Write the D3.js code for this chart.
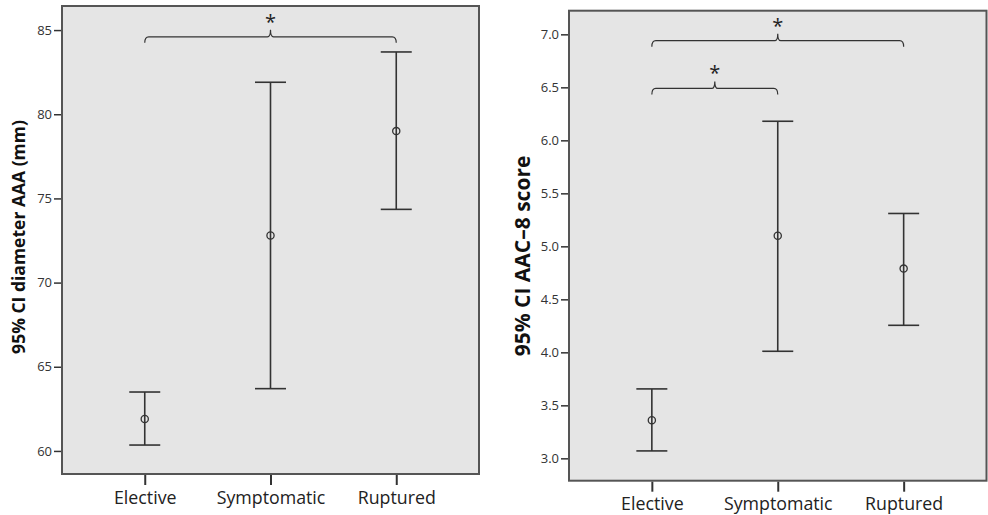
<!DOCTYPE html>
<html>
<head>
<meta charset="utf-8">
<script src="https://cdn.jsdelivr.net/npm/d3@7"></script>
<style>
  body { margin: 0; background: #fff; }
  svg { display: block; }
  text { font-family: "Open Sans", sans-serif; }
</style>
</head>
<body>
<svg id="chart" width="988" height="515"></svg>
<script>
// ---- data ----
const categories = ["Elective", "Symptomatic", "Ruptured"];

// Panel A: 95% CI diameter AAA (mm)
const diamMean  = [61.9, 72.8, 79.0];
const diamLower = [60.35, 63.7, 74.35];
const diamUpper = [63.5, 81.9, 83.7];
const diamTicks = [60, 65, 70, 75, 80, 85];
const diamTickLabels = ["60", "65", "70", "75", "80", "85"];
const diamSig = [{ from: "Elective", to: "Ruptured", level: 84.6, label: "*" }];

// Panel B: 95% CI AAC-8 score
const aacMean  = [3.36, 5.10, 4.79];
const aacLower = [3.07, 4.01, 4.255];
const aacUpper = [3.655, 6.18, 5.31];
const aacTicks = [3.0, 3.5, 4.0, 4.5, 5.0, 5.5, 6.0, 6.5, 7.0];
const aacTickLabels = ["3.0", "3.5", "4.0", "4.5", "5.0", "5.5", "6.0", "6.5", "7.0"];
const aacSig = [
  { from: "Elective", to: "Ruptured", level: 6.94, label: "*" },
  { from: "Elective", to: "Symptomatic", level: 6.49, label: "*" }
];

const svg = d3.select("#chart");

function drawPanel(cfg) {
  const g = svg.append("g");
  const { x0, x1, y0, y1 } = cfg.box;
  const x = d3.scalePoint().domain(categories).range([x0, x1]).padding(0.658);
  const y = d3.scaleLinear().domain(cfg.domain).range([y1, y0]);

  // plot background
  g.append("rect")
    .attr("x", x0).attr("y", y0)
    .attr("width", x1 - x0).attr("height", y1 - y0)
    .attr("fill", "#e5e5e5")
    .attr("stroke", "#555").attr("stroke-width", 2);

  // y axis
  const yAxis = d3.axisLeft(y)
    .tickValues(cfg.ticks)
    .tickFormat((d, i) => cfg.tickLabels[i])
    .tickSize(7).tickPadding(2);
  const ya = g.append("g").attr("transform", `translate(${x0 - 1},0)`).call(yAxis);
  ya.select(".domain").remove();
  ya.selectAll(".tick line").attr("stroke", "#333").attr("stroke-width", 1.5);
  ya.selectAll(".tick text").attr("fill", "#333").style("font-size", "13px");

  // x axis
  const xAxis = d3.axisBottom(x).tickSize(10).tickPadding(6);
  const xa = g.append("g").attr("transform", `translate(0,${y1 + 1})`).call(xAxis);
  xa.select(".domain").remove();
  xa.selectAll(".tick line").attr("stroke", "#333").attr("stroke-width", 2);
  xa.selectAll(".tick text").attr("fill", "#222").style("font-size", "17.8px");

  // y title
  g.append("text")
    .attr("transform", `translate(${cfg.titleX},${cfg.titleY}) rotate(-90)`)
    .attr("text-anchor", "middle")
    .attr("dominant-baseline", "central")
    .style("font-size", cfg.titleSize).style("font-weight", "bold")
    .attr("fill", "#111")
    .text(cfg.title);

  // error bars
  const capW = 15.5;
  const data = categories.map((c, i) => ({
    c, m: cfg.mean[i], lo: cfg.lower[i], hi: cfg.upper[i]
  }));
  const eb = g.append("g").attr("stroke", "#333").attr("stroke-width", 1.6).attr("fill", "none");
  eb.selectAll("line.v").data(data).join("line").attr("class", "v")
    .attr("x1", d => x(d.c)).attr("x2", d => x(d.c))
    .attr("y1", d => y(d.lo)).attr("y2", d => y(d.hi));
  eb.selectAll("line.top").data(data).join("line").attr("class", "top")
    .attr("x1", d => x(d.c) - capW).attr("x2", d => x(d.c) + capW)
    .attr("y1", d => y(d.hi)).attr("y2", d => y(d.hi));
  eb.selectAll("line.bot").data(data).join("line").attr("class", "bot")
    .attr("x1", d => x(d.c) - capW).attr("x2", d => x(d.c) + capW)
    .attr("y1", d => y(d.lo)).attr("y2", d => y(d.lo));
  eb.selectAll("circle").data(data).join("circle")
    .attr("cx", d => x(d.c)).attr("cy", d => y(d.m)).attr("r", 3.6)
    .attr("fill", "none").attr("stroke-width", 1.3);

  // significance brackets
  cfg.sig.forEach(s => {
    const xa_ = x(s.from), xb_ = x(s.to), yy = y(s.level);
    const xm = (xa_ + xb_) / 2;
    const p = `M${xa_},${yy + 6} Q${xa_},${yy} ${xa_ + 4},${yy} L${xm - 3},${yy} Q${xm},${yy} ${xm},${yy - 7} Q${xm},${yy} ${xm + 3},${yy} L${xb_ - 4},${yy} Q${xb_},${yy} ${xb_},${yy + 6}`;
    g.append("path").attr("d", p).attr("fill", "none").attr("stroke", "#333").attr("stroke-width", 1.2);
    g.append("text")
      .attr("x", xm).attr("y", yy - 8)
      .attr("text-anchor", "middle")
      .style("font-size", "20px").attr("fill", "#222")
      .text(s.label);
  });
}

drawPanel({
  box: { x0: 62, x1: 479, y0: 6, y1: 474 },
  domain: [58.63, 86.43],
  ticks: diamTicks, tickLabels: diamTickLabels,
  mean: diamMean, lower: diamLower, upper: diamUpper,
  sig: diamSig,
  title: "95% CI diameter AAA (mm)", titleX: 18, titleY: 237, titleSize: "17.5px"
});

drawPanel({
  box: { x0: 569, x1: 986.5, y0: 10.7, y1: 480.7 },
  domain: [2.789, 7.223],
  ticks: aacTicks, tickLabels: aacTickLabels,
  mean: aacMean, lower: aacLower, upper: aacUpper,
  sig: aacSig,
  title: "95% CI AAC\u20138 score", titleX: 522, titleY: 256, titleSize: "21px"
});
</script>
</body>
</html>
